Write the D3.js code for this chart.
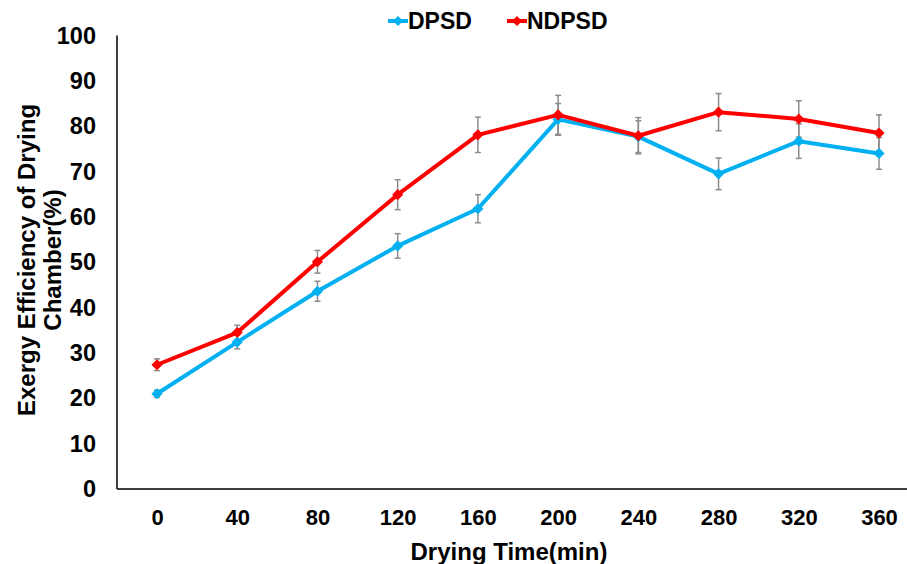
<!DOCTYPE html>
<html>
<head>
<meta charset="utf-8">
<script src="https://cdn.jsdelivr.net/npm/d3@7/dist/d3.min.js"></script>
<style>
  html, body { margin: 0; padding: 0; background: #fff; overflow: hidden; }
  text { font-family: "Liberation Sans", Arial, sans-serif; font-weight: bold; fill: #000; }
</style>
</head>
<body>
<svg id="chart" width="907" height="564"></svg>
<script>
const categories = ["0", "40", "80", "120", "160", "200", "240", "280", "320", "360"];
const yTicks = [0, 10, 20, 30, 40, 50, 60, 70, 80, 90, 100];
const seriesNames = ["DPSD", "NDPSD"];
const seriesColors = ["#00B0F0", "#FF0000"];
const dpsdValues = [21.0, 32.4, 43.6, 53.6, 61.8, 81.5, 77.7, 69.5, 76.7, 74.0];
const dpsdErrors = [0.8, 1.5, 2.2, 2.7, 3.1, 3.5, 3.5, 3.5, 3.8, 3.5];
const ndpsdValues = [27.4, 34.5, 50.1, 64.9, 78.1, 82.5, 77.9, 83.1, 81.6, 78.5];
const ndpsdErrors = [1.3, 1.6, 2.5, 3.3, 3.9, 4.3, 4.0, 4.1, 4.0, 4.0];
const xTitle = "Drying Time(min)";
const yTitleLines = ["Exergy Efficiency of Drying", "Chamber(%)"];

const series = [
  { name: seriesNames[0], color: seriesColors[0], values: dpsdValues, errors: dpsdErrors },
  { name: seriesNames[1], color: seriesColors[1], values: ndpsdValues, errors: ndpsdErrors }
];

const svg = d3.select("#chart");
const x = d3.scalePoint().domain(categories).range([157, 879]);
const y = d3.scaleLinear().domain([0, 100]).range([489, 35.5]);

// Axes lines
svg.append("line").attr("x1", 117).attr("x2", 117).attr("y1", y(100)).attr("y2", y(0))
  .attr("stroke", "#000").attr("stroke-width", 1.5);
svg.append("line").attr("x1", 117).attr("x2", 907).attr("y1", y(0)).attr("y2", y(0))
  .attr("stroke", "#000").attr("stroke-width", 1.5);

// Y tick labels
const yAxis = d3.axisLeft(y).tickValues(yTicks).tickSize(0).tickPadding(0);
const yg = svg.append("g").attr("transform", "translate(96,0)").call(yAxis);
yg.select(".domain").remove();
yg.selectAll("text").attr("font-size", 23.5).attr("font-family", "Liberation Sans, Arial, sans-serif")
  .attr("font-weight", "bold").attr("fill", "#000");

// X tick labels
const xAxis = d3.axisBottom(x).tickSize(0).tickPadding(0);
const xg = svg.append("g").attr("transform", "translate(0,509)").call(xAxis);
xg.select(".domain").remove();
xg.selectAll("text").attr("font-size", 22).attr("font-family", "Liberation Sans, Arial, sans-serif")
  .attr("font-weight", "bold").attr("fill", "#000");

// Axis titles
svg.append("text").attr("x", 509).attr("y", 560).attr("text-anchor", "middle")
  .attr("font-size", 24).text(xTitle);
const yt = svg.append("text").attr("transform", "translate(0,260) rotate(-90)").attr("text-anchor", "middle")
  .attr("font-size", 24);
yt.append("tspan").attr("x", 0).attr("y", 35).text(yTitleLines[0]);
yt.append("tspan").attr("x", 0).attr("y", 61).text(yTitleLines[1]);

// Error bars
series.forEach(s => {
  const g = svg.append("g");
  categories.forEach((c, i) => {
    const cx = x(c), top = y(s.values[i] + s.errors[i]), bot = y(s.values[i] - s.errors[i]);
    g.append("line").attr("x1", cx).attr("x2", cx).attr("y1", top).attr("y2", bot)
      .attr("stroke", "#8c8c8c").attr("stroke-width", 1.5);
    [top, bot].forEach(yy => g.append("line").attr("x1", cx - 3).attr("x2", cx + 3).attr("y1", yy).attr("y2", yy)
      .attr("stroke", "#8c8c8c").attr("stroke-width", 1.5));
  });
});

// Lines and markers
const line = d3.line().x((d, i) => x(categories[i])).y(d => y(d));
const marker = d3.symbol().type(d3.symbolSquare).size(62);
series.forEach(s => {
  svg.append("path").datum(s.values).attr("d", line).attr("fill", "none")
    .attr("stroke", s.color).attr("stroke-width", 4).attr("stroke-linejoin", "round");
  svg.append("g").selectAll("path").data(s.values).join("path")
    .attr("d", marker).attr("fill", s.color)
    .attr("transform", (d, i) => `translate(${x(categories[i])},${y(d)}) rotate(45)`);
});

// Legend
const legendItems = [{ x0: 388, x1: 408, tx: 408 }, { x0: 507, x1: 527, tx: 527 }];
series.forEach((s, i) => {
  const L = legendItems[i];
  svg.append("line").attr("x1", L.x0).attr("x2", L.x1).attr("y1", 21).attr("y2", 21)
    .attr("stroke", s.color).attr("stroke-width", 4);
  svg.append("path").attr("d", d3.symbol().type(d3.symbolSquare).size(50)())
    .attr("fill", s.color).attr("transform", `translate(${(L.x0 + L.x1) / 2},21) rotate(45)`);
  svg.append("text").attr("x", L.tx).attr("y", 29).attr("font-size", 23).text(s.name);
});
</script>
</body>
</html>
